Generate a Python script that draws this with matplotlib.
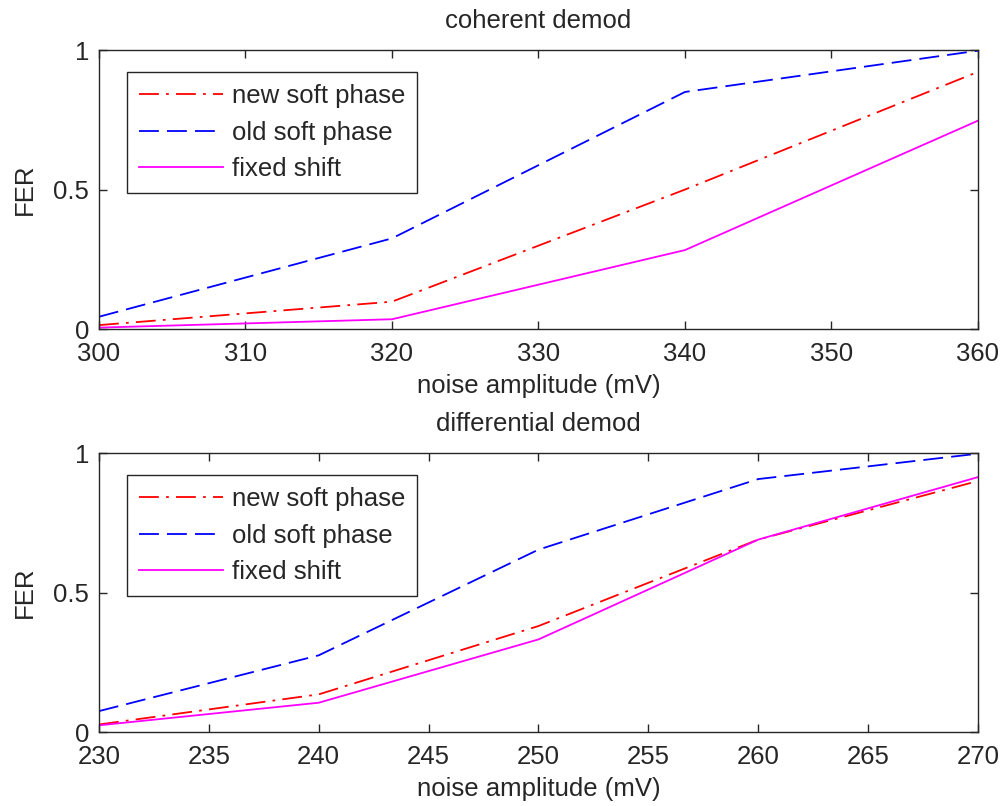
import numpy as np
import matplotlib
matplotlib.use("Agg")
import matplotlib.pyplot as plt

plt.rcParams["font.family"] = ["Liberation Sans", "DejaVu Sans"]
plt.rcParams["font.size"] = 18.5

# coherent demod
x_coh = [300, 320, 340, 360]
new_soft_coh = [0.014, 0.098, 0.50, 0.922]
old_soft_coh = [0.044, 0.325, 0.85, 0.998]
fixed_coh = [0.005, 0.035, 0.283, 0.747]

# differential demod
x_diff = [230, 240, 250, 260, 270]
new_soft_diff = [0.027, 0.135, 0.38, 0.69, 0.90]
old_soft_diff = [0.075, 0.275, 0.654, 0.907, 0.998]
fixed_diff = [0.024, 0.105, 0.332, 0.69, 0.914]

labels = ["new soft phase", "old soft phase", "fixed shift"]
titles = ["coherent demod", "differential demod"]

fig = plt.figure(figsize=(10.02, 8.06), dpi=100)
ax1 = fig.add_axes([0.0988, 0.5918, 0.8772, 0.346])
ax2 = fig.add_axes([0.0988, 0.0918, 0.8772, 0.346])


def draw(ax, x, new, old, fixed, xticks, title):
    ax.plot(x, new, color="#ff0000", lw=1.3, dashes=[11, 4, 1.5, 4], label=labels[0])
    ax.plot(x, old, color="#0000ff", lw=1.3, dashes=[11, 4.5], label=labels[1])
    ax.plot(x, fixed, color="#ff00ff", lw=1.3, label=labels[2])
    ax.set_xlim(x[0], x[-1])
    ax.set_ylim(0, 1)
    ax.set_xticks(xticks)
    ax.set_yticks([0, 0.5, 1])
    ax.set_yticklabels(["0", "0.5", "1"])
    ax.tick_params(direction="in", top=True, right=True, length=6, width=1,
                   colors="#262626", labelcolor="#262626")
    ax.tick_params(axis="x", pad=9)
    ax.tick_params(axis="y", pad=7)
    for s in ax.spines.values():
        s.set_linewidth(1.0)
        s.set_color("#262626")
    ax.set_xlabel("noise amplitude (mV)", labelpad=6, color="#262626")
    ax.set_ylabel("FER", labelpad=12, color="#262626")
    ax.set_title(title, pad=16, color="#262626", fontsize=18.5)
    leg = ax.legend(loc="upper left", bbox_to_anchor=(0.032, 0.921),
                    borderaxespad=0, fancybox=False, edgecolor="#262626",
                    handlelength=3.3, handletextpad=0.35, labelspacing=0.5,
                    borderpad=0.45, framealpha=1)
    leg.get_frame().set_linewidth(1.0)
    for t in leg.get_texts():
        t.set_color("#262626")


draw(ax1, x_coh, new_soft_coh, old_soft_coh, fixed_coh, np.arange(300, 361, 10), titles[0])
draw(ax2, x_diff, new_soft_diff, old_soft_diff, fixed_diff, np.arange(230, 271, 5), titles[1])

fig.savefig("out.png", dpi=100)
